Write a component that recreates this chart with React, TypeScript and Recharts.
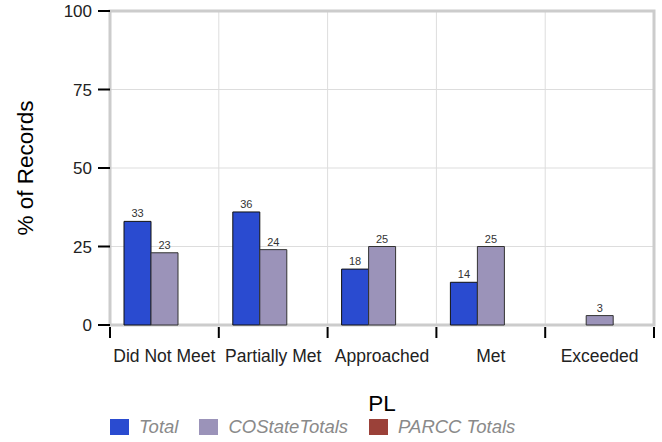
import { BarChart, Bar, XAxis, YAxis, CartesianGrid, Legend, LabelList, ReferenceArea } from 'recharts'

const levels = ['Did Not Meet', 'Partially Met', 'Approached', 'Met', 'Exceeded']
const total = [33, 36, 17.8, 13.6, null]
const coStateTotals = [23, 24, 25, 25, 3]
const parccTotals = [null, null, null, null, null]
const yTicks = [0, 25, 50, 75, 100]

const seriesNames = ['Total', 'COStateTotals', 'PARCC Totals']
const seriesColors = ['#2a4bd0', '#9b93b9', '#9b4139']

const data = levels.map((pl, i) => ({
  pl,
  total: total[i],
  co: coStateTotals[i],
  parcc: parccTotals[i]
}))

const FONT = '"Liberation Sans", Arial, Helvetica, sans-serif'

// category labels sit in the middle, tick marks on the band edges
function LevelTick(props: any) {
  const { x, y, payload, index, visibleTicksCount, width } = props
  const half = payload.offset > 0 ? payload.offset : width / visibleTicksCount / 2
  return (
    <g>
      <line x1={x - half} x2={x - half} y1={y + 2} y2={y + 13} stroke="#000" strokeWidth={2} />
      {index === visibleTicksCount - 1 && (
        <line x1={x + half} x2={x + half} y1={y + 2} y2={y + 13} stroke="#000" strokeWidth={2} />
      )}
      <text x={x} y={y + 37} textAnchor="middle" fontFamily={FONT} fontSize={17.5} fill="#222">
        {payload.value}
      </text>
    </g>
  )
}

function renderLegend() {
  return (
    <div style={{ display: 'flex', alignItems: 'center', height: 30, fontFamily: FONT }}>
      {seriesNames.map((name, i) => (
        <div key={name} style={{ display: 'flex', alignItems: 'center', marginRight: 21 }}>
          <span
            style={{
              display: 'inline-block',
              width: 19,
              height: 16,
              background: seriesColors[i],
              marginRight: 10
            }}
          />
          <span style={{ fontStyle: 'italic', color: '#8a8a8a', fontSize: 18.5 }}>{name}</span>
        </div>
      ))}
    </div>
  )
}

const fmt = (v: any) => (v == null ? '' : Math.round(v))

export default function App() {
  return (
    <div style={{ position: 'absolute', left: 0, top: 0, fontFamily: FONT }}>
      <BarChart
        width={662}
        height={442}
        data={data}
        margin={{ top: 11, right: 8, bottom: 0, left: 0 }}
        barCategoryGap={14}
        barGap={0}
        style={{ fontFamily: FONT }}
      >
        <CartesianGrid
          stroke="#dddddd"
          verticalCoordinatesGenerator={({ offset }: any) =>
            levels.map((_, i) => offset.left + ((i + 1) * offset.width) / levels.length).slice(0, -1)
          }
        />
        <ReferenceArea y1={0} y2={100} fill="none" stroke="#cccccc" strokeWidth={3} />
        <XAxis
          dataKey="pl"
          height={87}
          axisLine={false}
          tickLine={false}
          tickSize={0}
          tickMargin={0}
          interval={0}
          tick={<LevelTick />}
          label={{ value: 'PL', position: 'insideBottom', offset: 1, fontSize: 22.5, fill: '#000', fontFamily: FONT }}
        />
        <YAxis
          width={110}
          domain={[0, 100]}
          ticks={yTicks}
          axisLine={false}
          tickLine={{ stroke: '#000', strokeWidth: 2 }}
          tickSize={12}
          tickMargin={6}
          tick={{ fontSize: 17, fill: '#222', fontFamily: FONT }}
          label={{
            value: '% of Records',
            angle: -90,
            position: 'insideLeft',
            offset: 25,
            fontSize: 22.5,
            fill: '#000',
            fontFamily: FONT,
            style: { textAnchor: 'middle' }
          }}
        />
        <Legend
          verticalAlign="bottom"
          height={30}
          content={renderLegend}
          wrapperStyle={{ left: 110, bottom: 0 }}
        />
        <Bar dataKey="total" name={seriesNames[0]} fill={seriesColors[0]} stroke="#111" strokeWidth={1} isAnimationActive={false}>
          <LabelList dataKey="total" position="top" formatter={fmt} fontSize={11} fill="#333" offset={4} fontFamily={FONT} />
        </Bar>
        <Bar dataKey="co" name={seriesNames[1]} fill={seriesColors[1]} stroke="#333" strokeWidth={1} isAnimationActive={false}>
          <LabelList dataKey="co" position="top" formatter={fmt} fontSize={11} fill="#333" offset={4} fontFamily={FONT} />
        </Bar>
        <Bar dataKey="parcc" name={seriesNames[2]} fill={seriesColors[2]} stroke="#333" strokeWidth={1} isAnimationActive={false}>
          <LabelList dataKey="parcc" position="top" formatter={fmt} fontSize={11} fill="#333" offset={4} fontFamily={FONT} />
        </Bar>
      </BarChart>
    </div>
  )
}
